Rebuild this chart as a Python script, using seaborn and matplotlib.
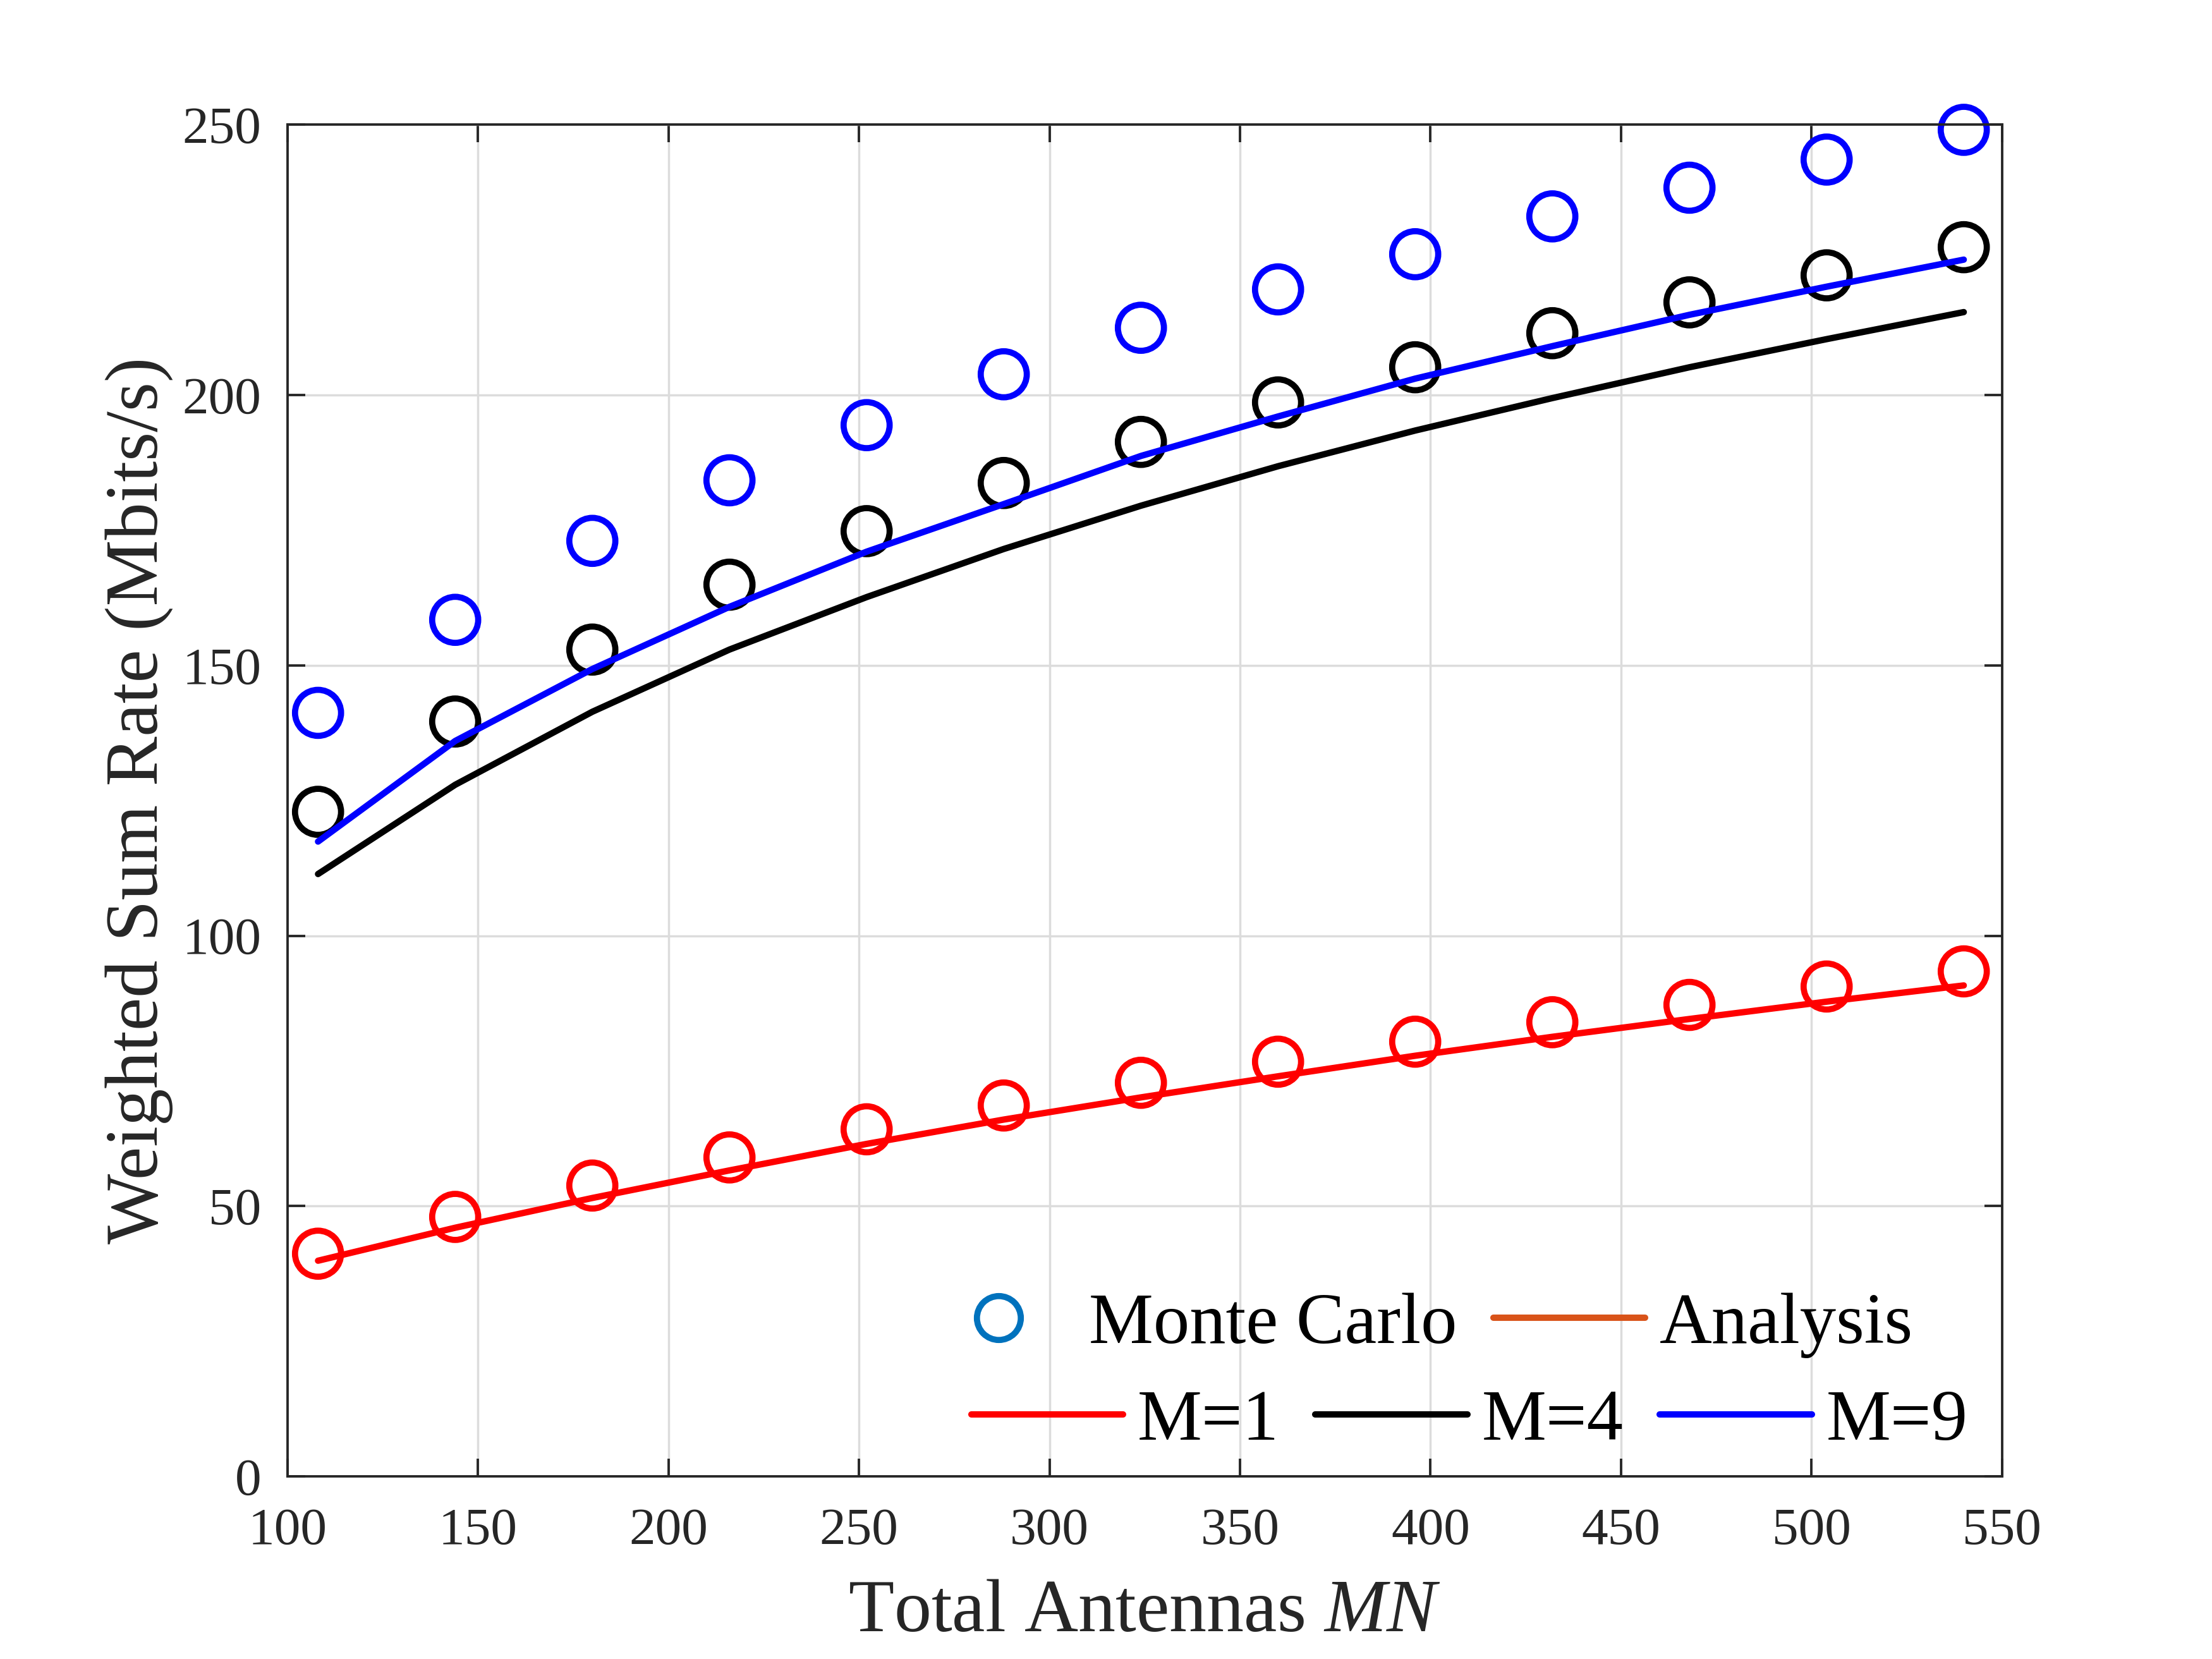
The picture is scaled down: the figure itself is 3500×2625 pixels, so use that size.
import numpy as np
import pandas as pd
import matplotlib
matplotlib.use("Agg")
import matplotlib.pyplot as plt
import seaborn as sns
from matplotlib.lines import Line2D

# ===== Data =====
antennas = [108, 144, 180, 216, 252, 288, 324, 360, 396, 432, 468, 504, 540]

mc_m1 = [41.2, 48.0, 53.8, 59.0, 64.2, 68.6, 72.8, 76.7, 80.4, 84.0, 87.2, 90.6, 93.4]
mc_m4 = [122.9, 139.6, 152.9, 164.9, 174.8, 183.7, 191.3, 198.6, 205.1, 211.4, 217.1, 222.1, 227.3]
mc_m9 = [141.2, 158.4, 173.0, 184.2, 194.4, 203.8, 212.4, 219.5, 226.0, 233.0, 238.3, 243.5, 249.0]

an_m1 = [39.9, 46.0, 51.5, 56.6, 61.5, 66.0, 70.1, 74.0, 77.8, 81.3, 84.6, 87.8, 90.8]
an_m4 = [111.4, 127.9, 141.4, 152.9, 162.6, 171.5, 179.5, 186.8, 193.4, 199.4, 205.1, 210.3, 215.3]
an_m9 = [117.4, 136.0, 149.3, 160.8, 171.0, 179.8, 188.7, 196.0, 203.0, 209.0, 214.8, 220.0, 225.0]

series = ["M=1", "M=4", "M=9"]
colors = {"M=1": "#FF0000", "M=4": "#000000", "M=9": "#0000FF"}

rows = []
for name, mc, an in zip(series, [mc_m1, mc_m4, mc_m9], [an_m1, an_m4, an_m9]):
    for x, a, b in zip(antennas, mc, an):
        rows.append({"MN": x, "M": name, "mc": a, "an": b})
df = pd.DataFrame(rows)

# ===== Style =====
sns.set_theme(style="ticks")
plt.rcParams["font.family"] = ["Liberation Serif", "DejaVu Serif"]
plt.rcParams["mathtext.fontset"] = "custom"
plt.rcParams["mathtext.it"] = "Liberation Serif:italic"
plt.rcParams["mathtext.rm"] = "Liberation Serif"

txt = "#262626"
fig = plt.figure(figsize=(14, 10.5), dpi=250)
ax = fig.add_axes([0.13, 0.11, 0.775, 0.815])

# Monte Carlo markers
sns.scatterplot(data=df, x="MN", y="mc", hue="M", palette=colors, ax=ax,
                marker="o", s=440, linewidth=2.8,
                legend=False, zorder=2, clip_on=False)
for coll in ax.collections:
    coll.set_facecolor("none")
    coll.set_edgecolors([colors[s] for s in series for _ in antennas])

# Analysis lines
sns.lineplot(data=df, x="MN", y="an", hue="M", palette=colors, ax=ax,
             linewidth=2.9, legend=False, zorder=3)

ax.set_xlim(100, 550)
ax.set_ylim(0, 250)
ax.set_xticks(np.arange(100, 551, 50))
ax.set_yticks(np.arange(0, 251, 50))
ax.grid(True, color="#dcdcdc", linewidth=1.0)
ax.set_axisbelow(True)
ax.tick_params(direction="in", length=8, width=1.1, top=True, right=True,
               labelsize=24, colors=txt)
ax.tick_params(axis="x", pad=14)
ax.tick_params(axis="y", pad=12)
for sp in ax.spines.values():
    sp.set_color(txt)
    sp.set_linewidth(1.1)

ax.set_xlabel("Total Antennas $\\mathit{MN}$", fontsize=34, color=txt, labelpad=11)
ax.set_ylabel("Weighted Sum Rate (Mbits/s)", fontsize=34, color=txt, labelpad=4)

# ===== Legends =====
h1 = [Line2D([], [], linestyle="none", marker="o", markersize=20, markerfacecolor="none",
             markeredgecolor="#0072BD", markeredgewidth=2.8),
      Line2D([], [], color="#D95319", linewidth=2.9)]
leg1 = ax.legend(h1, ["Monte Carlo", "Analysis"], ncol=2, frameon=False, fontsize=33,
                 loc="center left", bbox_to_anchor=(0.417, 0.201),
                 bbox_transform=fig.transFigure, handlelength=2.1, labelcolor="black",
                 handletextpad=0.2, columnspacing=0.5, borderaxespad=0, borderpad=0)
ax.add_artist(leg1)

h2 = [Line2D([], [], color=colors[s], linewidth=2.9) for s in series]
ax.legend(h2, series, ncol=3, frameon=False, fontsize=33,
          loc="center left", bbox_to_anchor=(0.439, 0.143),
          bbox_transform=fig.transFigure, handlelength=2.1, labelcolor="black",
          handletextpad=0.2, columnspacing=0.5, borderaxespad=0, borderpad=0)

fig.savefig("out.png", dpi=250)
